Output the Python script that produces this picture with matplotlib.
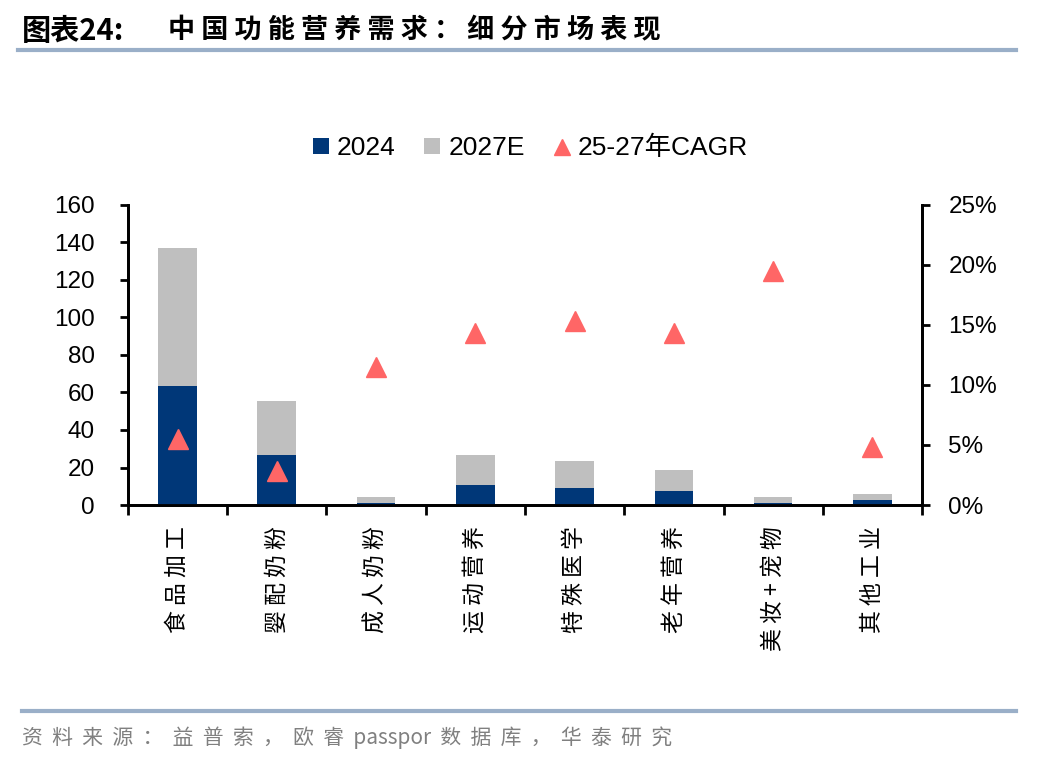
import numpy as np
import matplotlib
matplotlib.use("Agg")
import matplotlib.pyplot as plt
from matplotlib.ticker import FuncFormatter

plt.rcParams['font.family'] = ['Liberation Sans', 'Noto Sans CJK SC', 'DejaVu Sans']
cjk = ['Noto Sans CJK SC', 'DejaVu Sans']

# data
categories = ['食品加工', '婴配奶粉', '成人奶粉', '运动营养', '特殊医学', '老年营养', '美妆+宠物', '其他工业']
v2024 = [63.3, 26.6, 1.0, 10.6, 9.0, 7.4, 1.0, 2.7]
v2027 = [136.8, 55.3, 4.3, 26.6, 23.4, 18.6, 4.3, 5.9]
cagr = [5.5, 2.8, 11.5, 14.3, 15.3, 14.3, 19.5, 4.8]

navy = '#003778'
grey = '#BFBFBF'
red = '#FF6666'

fig = plt.figure(figsize=(10.48, 7.64), dpi=100)
ax = fig.add_axes([0.1221, 0.339, 0.7577, 0.3927])
ax2 = ax.twinx()

x = np.arange(len(categories))
w = 0.39
ax.bar(x, v2027, width=w, color=grey, label='2027E', zorder=2)
ax.bar(x, v2024, width=w, color=navy, label='2024', zorder=3)
ax2.plot(x, cagr, linestyle='none', marker='^', markersize=15, color=red,
         label='25-27年CAGR', zorder=4)

ax.set_zorder(ax2.get_zorder() - 1)
ax.patch.set_visible(False)
ax2.patch.set_visible(False)

ax.set_xlim(-0.5, len(categories) - 0.5)
ax.set_ylim(0, 160)
ax.set_yticks(range(0, 161, 20))
ax2.set_ylim(0, 25)
ax2.set_yticks(range(0, 26, 5))
ax2.yaxis.set_major_formatter(FuncFormatter(lambda v, p: f'{v:.0f}%'))

# category labels spaced out like the original
spaced = [' '.join(c) for c in categories]
ax.set_xticks(np.arange(-0.5, len(categories), 1.0))
ax.set_xticklabels([])
ax.set_xticks(x, minor=True)
ax.set_xticklabels(spaced, minor=True, rotation=90, fontsize=16.5, family=cjk, va='top')
ax.tick_params(axis='x', which='minor', length=0, pad=15)
ax.tick_params(axis='x', which='major', length=7, width=2, direction='out')
ax.tick_params(axis='y', length=6, width=2, direction='out', labelsize=17.5, pad=18)
ax2.tick_params(axis='y', length=6, width=2, direction='out', labelsize=17.5, pad=13)

for a in (ax, ax2):
    a.spines['top'].set_visible(False)
    for s in ('left', 'right', 'bottom'):
        a.spines[s].set_linewidth(2)

# legend in the order of the reference
h1, l1 = ax.get_legend_handles_labels()
h2, l2 = ax2.get_legend_handles_labels()
handles = [h1[1], h1[0], h2[0]]
labels = [l1[1], l1[0], l2[0]]
fig.legend(handles, labels, loc='center', bbox_to_anchor=(0.506, 0.806), ncol=3,
           frameon=False, fontsize=19, handlelength=0.6, handleheight=0.6,
           handletextpad=0.3, columnspacing=1.1, markerscale=0.8)

# title and footer
fig.text(0.021, 0.96, '图表24:', fontsize=21, fontweight='bold', family=cjk,
         va='center', ha='left')
fig.text(0.160, 0.96, ' '.join('中国功能营养需求：细分市场表现'), fontsize=19.5,
         fontweight='bold', family=cjk, va='center', ha='left')
fig.add_artist(plt.Line2D([0.017, 0.969], [0.934, 0.934], color='#9AAFC8', linewidth=3))
fig.add_artist(plt.Line2D([0.021, 0.969], [0.069, 0.069], color='#9AAFC8', linewidth=3))
footer = '  '.join('资料来源：益普索，欧睿') + '  passpor  ' + '  '.join('数据库，华泰研究')
fig.text(0.021, 0.035, footer, fontsize=15, color='#808080', family=cjk,
         va='center', ha='left')

fig.savefig('out.png', dpi=100)
